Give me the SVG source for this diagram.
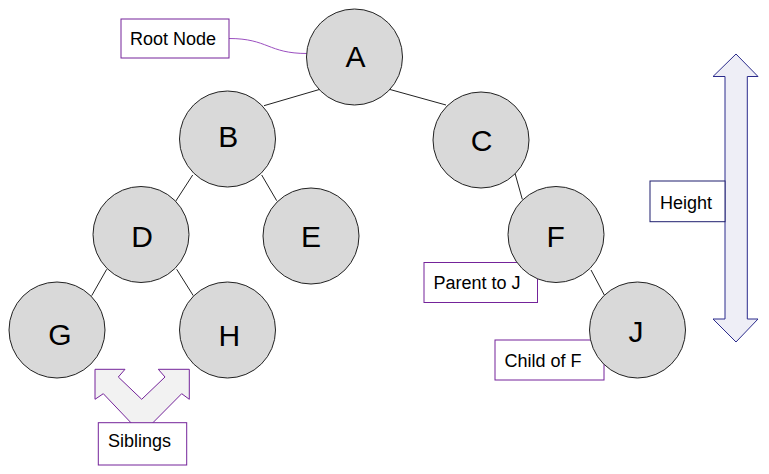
<svg xmlns="http://www.w3.org/2000/svg" width="769" height="474" viewBox="0 0 769 474">
<style>
  .node circle { fill: #d9d9d9; stroke: #222; stroke-width: 1; }
  .node text { font-family: "Liberation Sans", Arial, sans-serif; font-size: 30px; fill: #000; text-anchor: middle; }
  .edge { stroke: #222; stroke-width: 1; fill: none; }
  .lbl rect { fill: #fff; stroke: #74239a; stroke-width: 1; }
  .lbl text { font-family: "Liberation Sans", Arial, sans-serif; font-size: 18px; fill: #000; }
  .navy rect { stroke: #1f1f6e; }
</style>
<rect width="769" height="474" fill="#fff"/>
<g id="connectors">
  <line class="edge" x1="264" y1="105.7" x2="320" y2="89.3"/>
  <line class="edge" x1="389.3" y1="89.3" x2="446" y2="105"/>
  <line class="edge" x1="192.7" y1="175" x2="175.5" y2="201.5"/>
  <line class="edge" x1="261.7" y1="175" x2="276.7" y2="200.7"/>
  <line class="edge" x1="106.7" y1="269.3" x2="91.7" y2="295.7"/>
  <line class="edge" x1="176.7" y1="269.3" x2="193.3" y2="295.7"/>
  <line class="edge" x1="515" y1="173.3" x2="522.3" y2="199.3"/>
  <line class="edge" x1="591" y1="270" x2="604.3" y2="295"/>
  <path class="edge" d="M229,38.5 C268,38.5 268,53.5 307,53.5" style="stroke:#9b4fc0"/>
</g>
<g id="lbl-parent" class="lbl"><rect x="424" y="262.5" width="113.5" height="40"/><text x="433.5" y="289">Parent to J</text></g>
<g id="lbl-child" class="lbl"><rect x="495" y="340" width="109" height="40"/><text x="504.5" y="366.5">Child of F</text></g>
<g id="node-A" class="node"><circle cx="354.5" cy="57" r="48"/><text x="355.5" y="66.5">A</text></g>
<g id="node-B" class="node"><circle cx="227.5" cy="139" r="48"/><text x="228.3" y="146.5">B</text></g>
<g id="node-C" class="node"><circle cx="481" cy="140" r="48"/><text x="481.5" y="150.5">C</text></g>
<g id="node-D" class="node"><circle cx="141" cy="234.5" r="48"/><text x="142" y="246.5">D</text></g>
<g id="node-E" class="node"><circle cx="311" cy="236" r="48"/><text x="311" y="246.5">E</text></g>
<g id="node-F" class="node"><circle cx="556" cy="234.5" r="48"/><text x="555.7" y="247">F</text></g>
<g id="node-G" class="node"><circle cx="57" cy="330" r="48"/><text x="60" y="345">G</text></g>
<g id="node-H" class="node"><circle cx="227.5" cy="330" r="48"/><text x="229.3" y="345.5">H</text></g>
<g id="node-J" class="node"><circle cx="637.5" cy="330" r="48"/><text x="636" y="341.5">J</text></g>
<g id="lbl-root" class="lbl"><rect x="121" y="19" width="108" height="39"/><text x="130" y="45">Root Node</text></g>
<g id="siblings-arrow">
  <path d="M95,369.3 L125,369.3 L118.3,377 L141.7,399.3 L165,377 L158.3,369.3 L189.3,369.3 L189.3,399.3 L181.7,393.7 L141.7,434 L103.3,393.7 L95,399.3 Z" fill="#f2f2f2" stroke="#74239a" stroke-width="1"/>
</g>
<g id="lbl-siblings" class="lbl"><rect x="98.3" y="422.7" width="88.4" height="42.3"/><text x="108" y="446.7">Siblings</text></g>
<g id="height-arrow">
  <path d="M736,54 L758,76.5 L747.3,76.5 L747.3,319 L758,319 L736,342 L713,319 L725,319 L725,76.5 L713,76.5 Z" fill="#eeeef6" stroke="#2b2b8c" stroke-width="1"/>
</g>
<g id="lbl-height" class="lbl navy"><rect x="650" y="181" width="75" height="40.7"/><text x="660" y="208.5">Height</text></g>
</svg>
